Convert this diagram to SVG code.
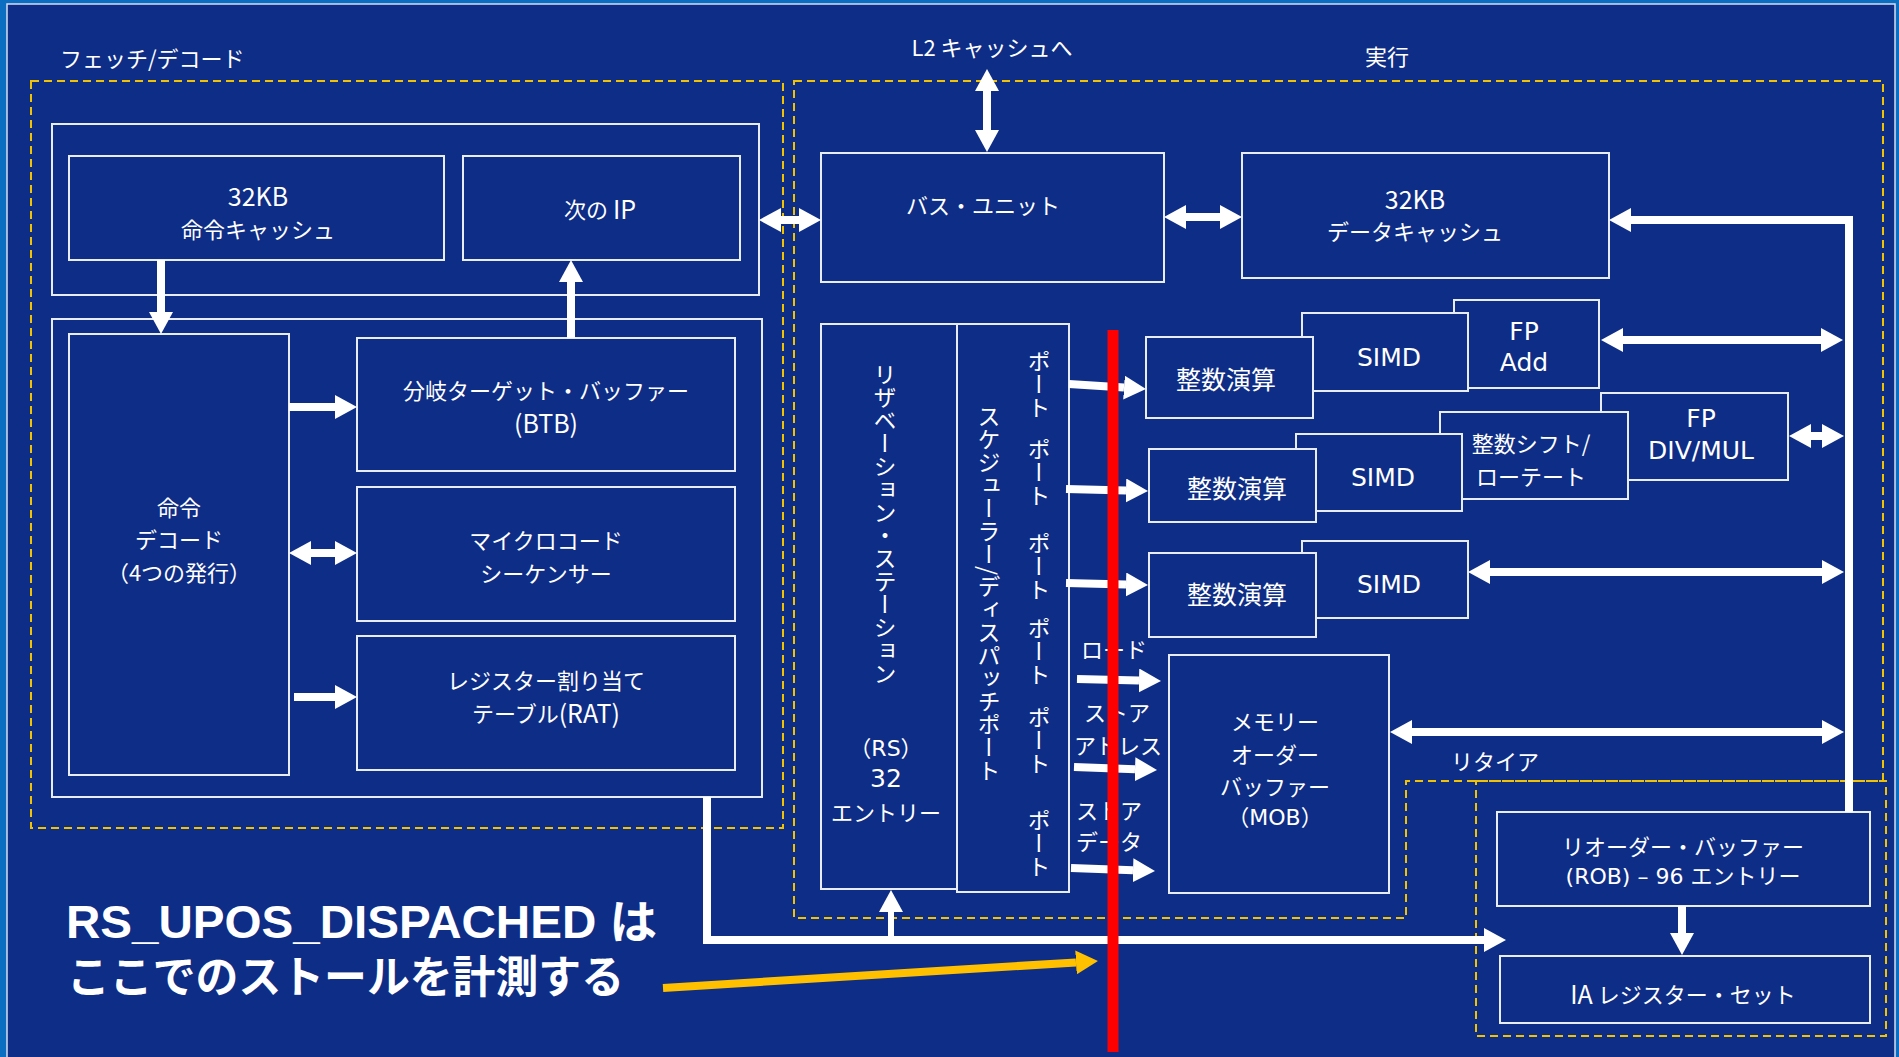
<svg xmlns="http://www.w3.org/2000/svg" width="1899" height="1057" viewBox="0 0 1899 1057">
<style>
.bg{fill:#0E2D86}
.box{fill:#0E2D86;stroke:#E8ECF5;stroke-width:2}
.dash{fill:none;stroke:#F2C200;stroke-width:2;stroke-dasharray:8 5}
.t{font-family:"Noto Sans CJK JP","Noto Sans",sans-serif;font-size:22px;fill:#FFFFFF;text-anchor:middle;dominant-baseline:central}
.tl{text-anchor:start}
.lat{font-size:25px}
.v{font-family:"DejaVu Sans","Noto Sans CJK JP",sans-serif;font-size:25px;fill:#FFFFFF;text-anchor:middle;dominant-baseline:central}
.vs{font-family:"DejaVu Sans","Noto Sans CJK JP",sans-serif;font-size:22px;fill:#FFFFFF;text-anchor:middle;dominant-baseline:central}
.vt{font-family:"Noto Sans CJK JP",sans-serif;font-size:23px;fill:#FFFFFF;writing-mode:vertical-rl;text-anchor:start}
.w{fill:none;stroke:#FFFFFF;stroke-width:8}
.wt{fill:none;stroke:#FFFFFF;stroke-width:6}
.big{font-family:"Liberation Sans","Noto Sans CJK JP",sans-serif;font-weight:bold;fill:#FFFFFF}
</style>
<defs>
<marker id="h" markerUnits="userSpaceOnUse" markerWidth="22" markerHeight="24" refX="0" refY="12" orient="auto-start-reverse"><path d="M0,0 L22,12 L0,24 Z" fill="#FFFFFF"/></marker>
<marker id="hy" markerUnits="userSpaceOnUse" markerWidth="22" markerHeight="24" refX="0" refY="12" orient="auto-start-reverse"><path d="M0,0 L22,12 L0,24 Z" fill="#FFC000"/></marker>
</defs>
<rect x="0" y="0" width="1899" height="1057" fill="#0B6EC0"/>
<rect x="7" y="4" width="1888" height="1060" class="bg" stroke="#D6DEF0" stroke-width="1.5"/>

<g id="regions">
<rect class="dash" x="31" y="81" width="752" height="747"/>
<path class="dash" d="M794,81 H1883 V781 H1406 V918 H794 Z"/>
<rect class="dash" x="1476" y="781" width="410" height="255"/>
<text class="t tl" x="60" y="57">フェッチ/デコード</text>
<text class="t" x="992" y="46" font-size="23">L2 キャッシュへ</text>
<text class="t" x="1387" y="55" font-size="23">実行</text>
</g>

<g id="fetch-outer"><rect class="box" x="52" y="124" width="707" height="171"/></g>
<g id="decode-outer"><rect class="box" x="52" y="319" width="710" height="478"/></g>
<g id="icache"><rect class="box" x="69" y="156" width="375" height="104"/>
<text class="t lat" x="258" y="195">32KB</text><text class="t" x="258" y="228">命令キャッシュ</text></g>
<g id="nextip"><rect class="box" x="463" y="156" width="277" height="104"/>
<text class="t" x="600" y="208">次の <tspan class="lat">IP</tspan></text></g>
<g id="decode"><rect class="box" x="69" y="334" width="220" height="441"/>
<text class="t" x="179" y="506">命令</text><text class="t" x="179" y="538">デコード</text><text class="t" x="179" y="571">（4つの発行）</text></g>
<g id="btb"><rect class="box" x="357" y="338" width="378" height="133"/>
<text class="t" x="546" y="389">分岐ターゲット・バッファー</text><text class="t lat" x="546" y="422">(BTB)</text></g>
<g id="microcode"><rect class="box" x="357" y="487" width="378" height="134"/>
<text class="t" x="546" y="539">マイクロコード</text><text class="t" x="546" y="572">シーケンサー</text></g>
<g id="rat"><rect class="box" x="357" y="636" width="378" height="134"/>
<text class="t" x="546" y="679">レジスター割り当て</text><text class="t" x="546" y="712">テーブル<tspan class="lat">(RAT)</tspan></text></g>

<g id="bus"><rect class="box" x="821" y="153" width="343" height="129"/>
<text class="t" x="983" y="204">バス・ユニット</text></g>
<g id="dcache"><rect class="box" x="1242" y="153" width="367" height="125"/>
<text class="t lat" x="1415" y="198">32KB</text><text class="t" x="1415" y="230">データキャッシュ</text></g>

<g id="rs"><rect class="box" x="821" y="324" width="136" height="565"/>
<text class="vt" x="885" y="363">リザベーション・ステーション</text>
<text class="vs" x="886" y="748" font-size="24">（RS）</text><text class="v" x="886" y="778" font-size="24">32</text><text class="t" x="886" y="811">エントリー</text></g>
<g id="scheduler"><rect class="box" x="957" y="324" width="112" height="568"/>
<text class="vt" x="989" y="405">スケジューラー/ディスパッチポート</text>
<text class="vt" x="1039" y="350">ポート</text>
<text class="vt" x="1039" y="438">ポート</text>
<text class="vt" x="1039" y="532">ポート</text>
<text class="vt" x="1039" y="617">ポート</text>
<text class="vt" x="1039" y="706">ポート</text>
<text class="vt" x="1039" y="809">ポート</text></g>

<g id="fpadd"><rect class="box" x="1454" y="300" width="145" height="88"/>
<text class="v" x="1524" y="331">FP</text><text class="v" x="1524" y="362">Add</text></g>
<g id="simd1"><rect class="box" x="1302" y="313" width="166" height="78"/>
<text class="v" x="1389" y="357">SIMD</text></g>
<g id="alu1"><rect class="box" x="1146" y="337" width="167" height="81"/>
<text class="v" x="1226" y="380">整数演算</text></g>

<g id="fpdiv"><rect class="box" x="1601" y="393" width="187" height="87"/>
<text class="v" x="1701" y="418">FP</text><text class="v" x="1701" y="450">DIV/MUL</text></g>
<g id="shift"><rect class="box" x="1440" y="412" width="188" height="87"/>
<text class="t" x="1531" y="442">整数シフト/</text><text class="t" x="1531" y="475">ローテート</text></g>
<g id="simd2"><rect class="box" x="1296" y="434" width="166" height="77"/>
<text class="v" x="1383" y="477">SIMD</text></g>
<g id="alu2"><rect class="box" x="1149" y="449" width="167" height="73"/>
<text class="v" x="1237" y="489">整数演算</text></g>

<g id="simd3"><rect class="box" x="1302" y="541" width="166" height="77"/>
<text class="v" x="1389" y="584">SIMD</text></g>
<g id="alu3"><rect class="box" x="1149" y="553" width="167" height="84"/>
<text class="v" x="1237" y="595">整数演算</text></g>

<g id="mob"><rect class="box" x="1169" y="655" width="220" height="238"/>
<text class="t" x="1275" y="720">メモリー</text><text class="t" x="1275" y="753">オーダー</text><text class="t" x="1275" y="785">バッファー</text><text class="vs" x="1275" y="817">（MOB）</text></g>

<g id="rob"><rect class="box" x="1497" y="812" width="373" height="94"/>
<text class="t" x="1683" y="845">リオーダー・バッファー</text><text class="vs" x="1683" y="876">(ROB) – 96 エントリー</text></g>
<g id="iaregs"><rect class="box" x="1500" y="956" width="370" height="67"/>
<text class="t" x="1683" y="993"><tspan class="lat">IA</tspan> レジスター・セット</text></g>

<g id="connectors">
<line class="w" x1="161" y1="260" x2="161" y2="312" marker-end="url(#h)"/>
<line class="w" x1="571" y1="338" x2="571" y2="282" marker-end="url(#h)"/>
<line class="w" x1="289" y1="407" x2="335" y2="407" marker-end="url(#h)"/>
<line class="w" x1="311" y1="553" x2="335" y2="553" marker-start="url(#h)" marker-end="url(#h)"/>
<line class="w" x1="294" y1="697" x2="335" y2="697" marker-end="url(#h)"/>
<line class="w" x1="781" y1="220" x2="799" y2="220" marker-start="url(#h)" marker-end="url(#h)"/>
<line class="w" x1="987" y1="91" x2="987" y2="130" marker-start="url(#h)" marker-end="url(#h)"/>
<line class="w" x1="1186" y1="217" x2="1220" y2="217" marker-start="url(#h)" marker-end="url(#h)"/>
<path class="w" d="M1849,812 V220 H1631" marker-end="url(#h)"/>
<line class="w" x1="1623" y1="340" x2="1821" y2="340" marker-start="url(#h)" marker-end="url(#h)"/>
<line class="w" x1="1811" y1="436" x2="1822" y2="436" marker-start="url(#h)" marker-end="url(#h)"/>
<line class="w" x1="1490" y1="572" x2="1822" y2="572" marker-start="url(#h)" marker-end="url(#h)"/>
<line class="w" x1="1412" y1="732" x2="1822" y2="732" marker-start="url(#h)" marker-end="url(#h)"/>
<line class="w" x1="1069" y1="384" x2="1124" y2="387.6" marker-end="url(#h)"/>
<line class="w" x1="1066" y1="489" x2="1126" y2="490.5" marker-end="url(#h)"/>
<line class="w" x1="1066" y1="583" x2="1126" y2="584.5" marker-end="url(#h)"/>
<line class="w" x1="1077" y1="679" x2="1139" y2="680.5" marker-end="url(#h)"/>
<line class="w" x1="1074" y1="767" x2="1135" y2="769.2" marker-end="url(#h)"/>
<line class="w" x1="1071" y1="868" x2="1133" y2="870.2" marker-end="url(#h)"/>
<line class="w" x1="1682" y1="906" x2="1682" y2="933" marker-end="url(#h)"/>
<path class="w" d="M707,797 V940 H1484" marker-end="url(#h)"/>
<line class="wt" x1="891" y1="940" x2="891" y2="912" marker-end="url(#h)"/>
<line stroke="#FFC000" stroke-width="8" x1="663" y1="988" x2="1076" y2="962.4" marker-end="url(#hy)"/>
</g>

<g id="port-labels">
<text class="t" x="1114" y="648">ロード</text>
<text class="t" x="1117" y="711">ストア</text>
<text class="t" x="1118" y="744">アドレス</text>
<text class="t" x="1109" y="809">ストア</text>
<text class="t" x="1109" y="840">データ</text>
<text class="t" x="1495" y="760">リタイア</text>
</g>

<g id="stall-line"><line x1="1113" y1="330" x2="1113" y2="1052" stroke="#FF0000" stroke-width="11"/></g>

<g id="annotation">
<text class="big" x="66" y="938" font-size="46" textLength="591" lengthAdjust="spacingAndGlyphs">RS_UPOS_DISPACHED は</text>
<text class="big" x="67" y="993" font-size="44" textLength="557" lengthAdjust="spacingAndGlyphs">ここでのストールを計測する</text>
</g>
</svg>
